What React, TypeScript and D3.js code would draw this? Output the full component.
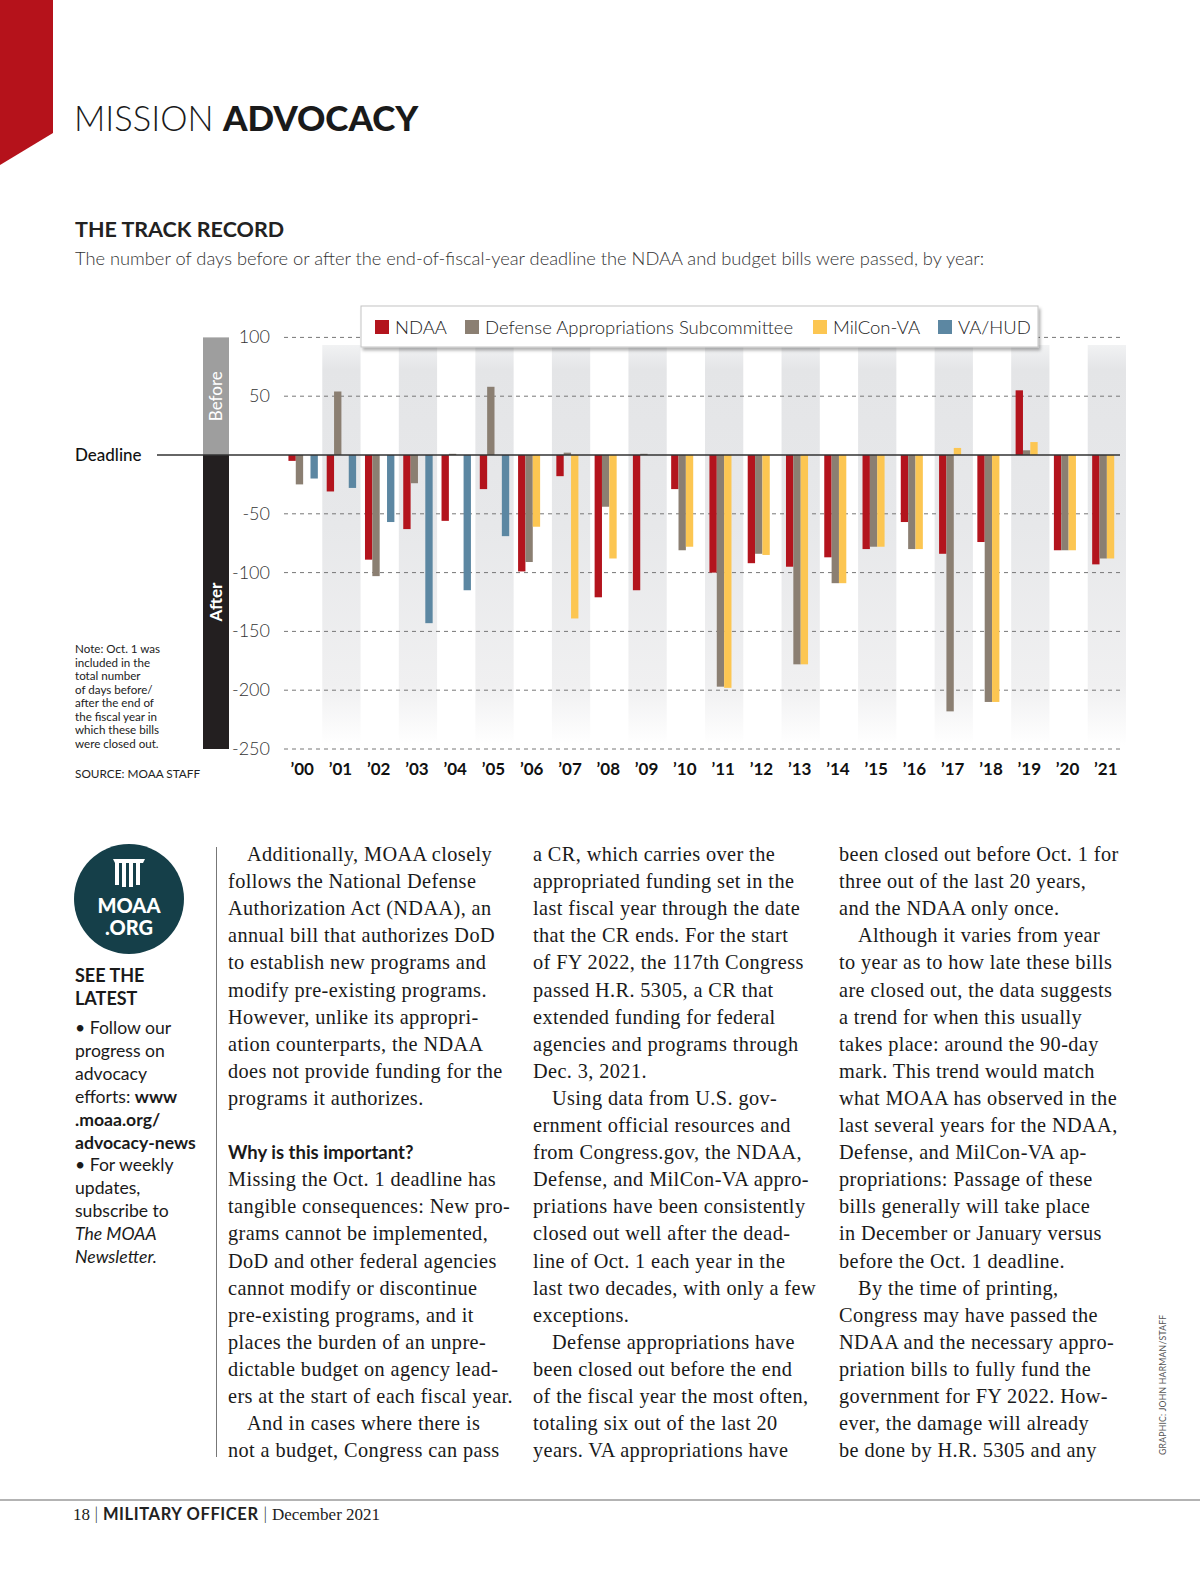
import { useEffect, useRef } from 'react';
import * as d3 from 'd3';

// chart data
const years = ['’00', '’01', '’02', '’03', '’04', '’05', '’06', '’07', '’08', '’09', '’10',
  '’11', '’12', '’13', '’14', '’15', '’16', '’17', '’18', '’19', '’20', '’21'];
const ndaa = [-5, -31, -89, -63, -56, -29, -99, -18, -121, -115, -29, -100, -92, -95, -87, -80, -57, -84, -74, 55, -81, -93];
const defense = [-25, 54, -103, -24, 1, 58, -91, 2, -44, 1, -81, -197, -84, -178, -109, -78, -80, -218, -210, 4, -81, -88];
const milcon = [null, null, null, null, null, null, -61, -139, -88, null, -78, -198, -85, -178, -109, -78, -80, 6, -210, 11, -81, -88];
const vaHud = [-20, -28, -57, -143, -115, -69, null, null, null, null, null, null, null, null, null, null, null, null, null, null, null, null];
const yTicks = [100, 50, -50, -100, -150, -200, -250];

const seriesNames = ['NDAA', 'Defense Appropriations Subcommittee', 'MilCon-VA', 'VA/HUD'];
const seriesColors = ['#b3141d', '#8b7f72', '#fcc652', '#5c87a2'];
const seriesValues = [ndaa, defense, milcon, vaHud];

const noteLines = ['Note: Oct. 1 was', 'included in the', 'total number', 'of days before/',
  'after the end of', 'the fiscal year in', 'which  these bills', 'were closed out.'];

// body copy, one entry per printed line; a leading '>' marks a paragraph indent, '#' a subhead
const col1 = [
  '>Additionally, MOAA closely', 'follows the National Defense', 'Authorization Act (NDAA), an',
  'annual bill that authorizes DoD', 'to establish new programs and', 'modify pre-existing programs.',
  'However, unlike its appropri-', 'ation counterparts, the NDAA', 'does not provide funding for the',
  'programs it authorizes.', '', '#Why is this important?', 'Missing the Oct. 1 deadline has',
  'tangible consequences: New pro-', 'grams cannot be implemented,', 'DoD and other federal agencies',
  'cannot modify or discontinue', 'pre-existing programs, and it', 'places the burden of an unpre-',
  'dictable budget on agency lead-', 'ers at the start of each fiscal year.', '>And in cases where there is',
  'not a budget, Congress can pass',
];
const col2 = [
  'a CR, which carries over the', 'appropriated funding set in the', 'last fiscal year through the date',
  'that the CR ends. For the start', 'of FY 2022, the 117th Congress', 'passed H.R. 5305, a CR that',
  'extended funding for federal', 'agencies and programs through', 'Dec. 3, 2021.',
  '>Using data from U.S. gov-', 'ernment official resources and', 'from Congress.gov, the NDAA,',
  'Defense, and MilCon-VA appro-', 'priations have been consistently', 'closed out well after the dead-',
  'line of Oct. 1 each year in the', 'last two decades, with only a few', 'exceptions.',
  '>Defense appropriations have', 'been closed out before the end', 'of the fiscal year the most often,',
  'totaling six out of the last 20', 'years. VA appropriations have',
];
const col3 = [
  'been closed out before Oct. 1 for', 'three out of the last 20 years,', 'and the NDAA only once.',
  '>Although it varies from year', 'to year as to how late these bills', 'are closed out, the data suggests',
  'a trend for when this usually', 'takes place: around the 90-day', 'mark. This trend would match',
  'what MOAA has observed in the', 'last several years for the NDAA,', 'Defense, and MilCon-VA ap-',
  'propriations: Passage of these', 'bills generally will take place', 'in December or January versus',
  'before the Oct. 1 deadline.', '>By the time of printing,', 'Congress may have passed the',
  'NDAA and the necessary appro-', 'priation bills to fully fund the', 'government for FY 2022. How-',
  'ever, the damage will already', 'be done by H.R. 5305 and any',
];
const sideLines = [
  ['• Follow our', false], ['progress on', false], ['advocacy', false], ['efforts: ', false, 'www'],
  ['.moaa.org/', true], ['advocacy-news', true], ['• For weekly', false], ['updates,', false],
  ['subscribe to', false], ['The MOAA', 'i'], ['Newsletter.', 'i'],
];

const SANS = 'Lato, "Open Sans", sans-serif';
const SERIF = '"Liberation Serif", "DejaVu Serif", serif';

export default function App() {
  const ref = useRef<HTMLDivElement>(null);
  useEffect(() => {
    document.body.style.margin = '0';
    const width = 1200;
    const height = 1575;

    const svg = d3.create('svg')
      .attr('width', width)
      .attr('height', height)
      .attr('viewBox', [0, 0, width, height])
      .style('display', 'block')
      .style('background', '#fff');

    const defs = svg.append('defs');
    const grad = defs.append('linearGradient')
      .attr('id', 'band').attr('x1', 0).attr('x2', 0).attr('y1', 0).attr('y2', 1);
    grad.append('stop').attr('offset', '0').attr('stop-color', '#f1f2f3');
    grad.append('stop').attr('offset', '0.06').attr('stop-color', '#e4e5e7');
    grad.append('stop').attr('offset', '0.45').attr('stop-color', '#e7e8ea');
    grad.append('stop').attr('offset', '0.85').attr('stop-color', '#f0f0f1');
    grad.append('stop').attr('offset', '1').attr('stop-color', '#ffffff');
    const shadow = defs.append('filter').attr('id', 'shadow')
      .attr('x', '-5%').attr('y', '-30%').attr('width', '110%').attr('height', '170%');
    shadow.append('feDropShadow').attr('dx', 2).attr('dy', 3).attr('stdDeviation', 1.5)
      .attr('flood-color', '#000').attr('flood-opacity', 0.3);

    // page header
    svg.append('path').attr('d', 'M0,0H53V133L0,165Z').attr('fill', '#b5121b');
    const title = svg.append('text').attr('x', 74).attr('y', 131)
      .attr('font-family', SANS).attr('fill', '#1a1a1a');
    title.append('tspan').attr('font-weight', 300).attr('font-size', 34.5).text('MISSION ');
    title.append('tspan').attr('font-weight', 900).attr('font-size', 35).text('ADVOCACY');

    svg.append('text').attr('x', 75).attr('y', 237)
      .attr('font-family', SANS).attr('font-weight', 700).attr('font-size', 21.5)
      .attr('fill', '#222').text('THE TRACK RECORD');
    svg.append('text').attr('x', 75).attr('y', 265)
      .attr('font-family', SANS).attr('font-weight', 300).attr('font-size', 18.3)
      .attr('fill', '#333')
      .text('The number of days before or after the end-of-fiscal-year deadline the NDAA and budget bills were passed, by year:');

    // scales
    const y = d3.scaleLinear().domain([-250, 100]).range([749, 337.4]);
    const x0 = d3.scaleBand<string>().domain(years).range([284, 1126]);
    const x1 = d3.scaleBand<string>().domain(seriesNames).range([0, 29.4]);
    const groupLeft = (yr: string) => x0(yr)! + x0.bandwidth() / 2 - 14.7;

    // alternating bands behind odd years
    svg.append('g')
      .selectAll('rect')
      .data(years.filter((_, i) => i % 2 === 1))
      .join('rect')
      .attr('x', (d) => x0(d)!)
      .attr('width', x0.bandwidth())
      .attr('y', 345)
      .attr('height', 400)
      .attr('fill', 'url(#band)');

    // gridlines + tick labels
    const grid = svg.append('g');
    grid.selectAll('line')
      .data(yTicks)
      .join('line')
      .attr('x1', 284).attr('x2', 1120)
      .attr('y1', (d) => y(d)).attr('y2', (d) => y(d))
      .attr('stroke', '#777').attr('stroke-width', 1)
      .attr('stroke-dasharray', '4 4');
    grid.selectAll('text')
      .data(yTicks)
      .join('text')
      .attr('x', 270)
      .attr('y', (d) => y(d) + 6)
      .attr('text-anchor', 'end')
      .attr('font-family', SANS).attr('font-weight', 300).attr('font-size', 18)
      .attr('fill', '#333')
      .text((d) => String(d));

    // before / after side bar
    svg.append('rect').attr('x', 203).attr('width', 26)
      .attr('y', y(100)).attr('height', y(0) - y(100)).attr('fill', '#9e9e9e');
    svg.append('rect').attr('x', 203).attr('width', 26)
      .attr('y', y(0)).attr('height', y(-250) - y(0)).attr('fill', '#231f20');
    svg.append('text').attr('transform', `translate(222,${(y(100) + y(0)) / 2}) rotate(-90)`)
      .attr('text-anchor', 'middle').attr('font-family', SANS).attr('font-size', 17)
      .attr('fill', '#fff').text('Before');
    svg.append('text').attr('transform', `translate(222,602) rotate(-90)`)
      .attr('text-anchor', 'middle').attr('font-family', SANS).attr('font-size', 17)
      .attr('font-weight', 700).attr('fill', '#fff').text('After');

    // bars
    seriesNames.forEach((name, si) => {
      const rows = years.map((yr, i) => ({ yr, v: seriesValues[si][i] }))
        .filter((d) => d.v !== null) as { yr: string, v: number }[];
      svg.append('g')
        .attr('fill', seriesColors[si])
        .selectAll('rect')
        .data(rows)
        .join('rect')
        .attr('x', (d) => groupLeft(d.yr) + x1(name)!)
        .attr('width', x1.bandwidth())
        .attr('y', (d) => y(Math.max(0, d.v)))
        .attr('height', (d) => Math.abs(y(d.v) - y(0)));
    });

    // deadline line
    svg.append('line').attr('x1', 157).attr('x2', 1120)
      .attr('y1', y(0)).attr('y2', y(0)).attr('stroke', '#333').attr('stroke-width', 1.5);
    svg.append('text').attr('x', 75).attr('y', y(0) + 6)
      .attr('font-family', SANS).attr('font-weight', 500).attr('font-size', 17)
      .attr('fill', '#111').text('Deadline');

    // year axis
    svg.append('g')
      .selectAll('text')
      .data(years)
      .join('text')
      .attr('x', (d) => x0(d)! + x0.bandwidth() / 2 - 1)
      .attr('y', 775)
      .attr('text-anchor', 'middle')
      .attr('font-family', SANS).attr('font-weight', 700).attr('font-size', 17)
      .attr('fill', '#111')
      .text((d) => d);

    // legend
    const lg = svg.append('g');
    lg.append('rect').attr('x', 361).attr('y', 306).attr('width', 677).attr('height', 41)
      .attr('fill', '#fff').attr('stroke', '#c4c4c4').attr('filter', 'url(#shadow)');
    const legendX = [375, 465, 813, 938];
    seriesNames.forEach((name, i) => {
      lg.append('rect').attr('x', legendX[i]).attr('y', 320).attr('width', 14).attr('height', 14)
        .attr('fill', seriesColors[i]);
      lg.append('text').attr('x', legendX[i] + 20).attr('y', 334)
        .attr('font-family', SANS).attr('font-weight', 300).attr('font-size', 18.5)
        .attr('fill', '#222').text(name);
    });

    // note + source
    svg.append('g')
      .selectAll('text')
      .data(noteLines)
      .join('text')
      .attr('x', 75)
      .attr('y', (_, i) => 653 + i * 13.57)
      .attr('font-family', SANS).attr('font-size', 11.6).attr('fill', '#222')
      .text((d) => d);
    svg.append('text').attr('x', 75).attr('y', 778)
      .attr('font-family', SANS).attr('font-size', 11.8).attr('fill', '#222')
      .text('SOURCE: MOAA STAFF');

    // sidebar
    svg.append('circle').attr('cx', 129).attr('cy', 899).attr('r', 55).attr('fill', '#153f49');
    const icon = svg.append('g').attr('fill', '#fff');
    [[115, 863, 22], [122, 860, 27], [129, 860, 27], [136, 863, 22]].forEach(([ix, iy, ih]) => {
      icon.append('rect').attr('x', ix).attr('y', iy).attr('width', 4).attr('height', ih);
    });
    icon.append('path').attr('d', 'M113,859H145L143,863H115Z');
    svg.append('text').attr('x', 129).attr('y', 913).attr('text-anchor', 'middle')
      .attr('font-family', SANS).attr('font-weight', 900).attr('font-size', 20)
      .attr('fill', '#fff').text('MOAA');
    svg.append('text').attr('x', 129).attr('y', 935).attr('text-anchor', 'middle')
      .attr('font-family', SANS).attr('font-weight', 900).attr('font-size', 20)
      .attr('fill', '#fff').text('.ORG');

    svg.append('text').attr('x', 75).attr('y', 982)
      .attr('font-family', SANS).attr('font-weight', 700).attr('font-size', 18)
      .attr('fill', '#1a1a1a').text('SEE THE');
    svg.append('text').attr('x', 75).attr('y', 1005)
      .attr('font-family', SANS).attr('font-weight', 700).attr('font-size', 18)
      .attr('fill', '#1a1a1a').text('LATEST');
    sideLines.forEach((row, i) => {
      const t = svg.append('text').attr('x', 75).attr('y', 1034 + i * 22.9)
        .attr('font-family', SANS).attr('font-size', 17.6).attr('fill', '#1a1a1a');
      if (row[1] === 'i') t.attr('font-style', 'italic');
      if (row[1] === true) t.attr('font-weight', 700);
      t.append('tspan').text(row[0] as string);
      if (row[2]) t.append('tspan').attr('font-weight', 700).text(row[2] as string);
    });

    // column divider
    svg.append('line').attr('x1', 216.5).attr('x2', 216.5).attr('y1', 847).attr('y2', 1457)
      .attr('stroke', '#777').attr('stroke-width', 1);

    // body columns
    const colX = [228, 533, 839];
    [col1, col2, col3].forEach((lines, ci) => {
      lines.forEach((ln, li) => {
        if (!ln) return;
        const yy = 861 + li * 27.1;
        if (ln.startsWith('#')) {
          svg.append('text').attr('x', colX[ci]).attr('y', yy)
            .attr('font-family', SANS).attr('font-weight', 700).attr('font-size', 18.5)
            .attr('fill', '#1a1a1a').text(ln.slice(1));
          return;
        }
        const indent = ln.startsWith('>');
        svg.append('text').attr('x', colX[ci] + (indent ? 19 : 0)).attr('y', yy)
          .attr('font-family', SERIF).attr('font-size', 20.3).attr('letter-spacing', 0.4)
          .attr('fill', '#1a1a1a').text(indent ? ln.slice(1) : ln);
      });
    });

    // credit
    svg.append('text').attr('transform', 'translate(1166,1455) rotate(-90)')
      .attr('font-family', SANS).attr('font-size', 8.6).attr('letter-spacing', 0.25)
      .attr('fill', '#555').text('GRAPHIC: JOHN HARMAN/STAFF');

    // footer
    svg.append('line').attr('x1', 0).attr('x2', 1200).attr('y1', 1500).attr('y2', 1500)
      .attr('stroke', '#9a9a9a').attr('stroke-width', 1.5);
    const foot = svg.append('text').attr('x', 73).attr('y', 1520)
      .attr('fill', '#222');
    foot.append('tspan').attr('font-family', SERIF).attr('font-size', 17).text('18 ');
    foot.append('tspan').attr('font-family', SANS).attr('font-size', 17).attr('font-weight', 300).text('| ');
    foot.append('tspan').attr('font-family', SANS).attr('font-size', 16.5).attr('font-weight', 700)
      .attr('letter-spacing', 0.6).text('MILITARY OFFICER ');
    foot.append('tspan').attr('font-family', SANS).attr('font-size', 17).attr('font-weight', 300)
      .attr('letter-spacing', 0).text('| ');
    foot.append('tspan').attr('font-family', SERIF).attr('font-size', 17).text('December 2021');

    const node = svg.node()!;
    ref.current?.append(node);
    return () => {
      node.remove();
    };
  }, []);
  return <div ref={ref} />;
}
